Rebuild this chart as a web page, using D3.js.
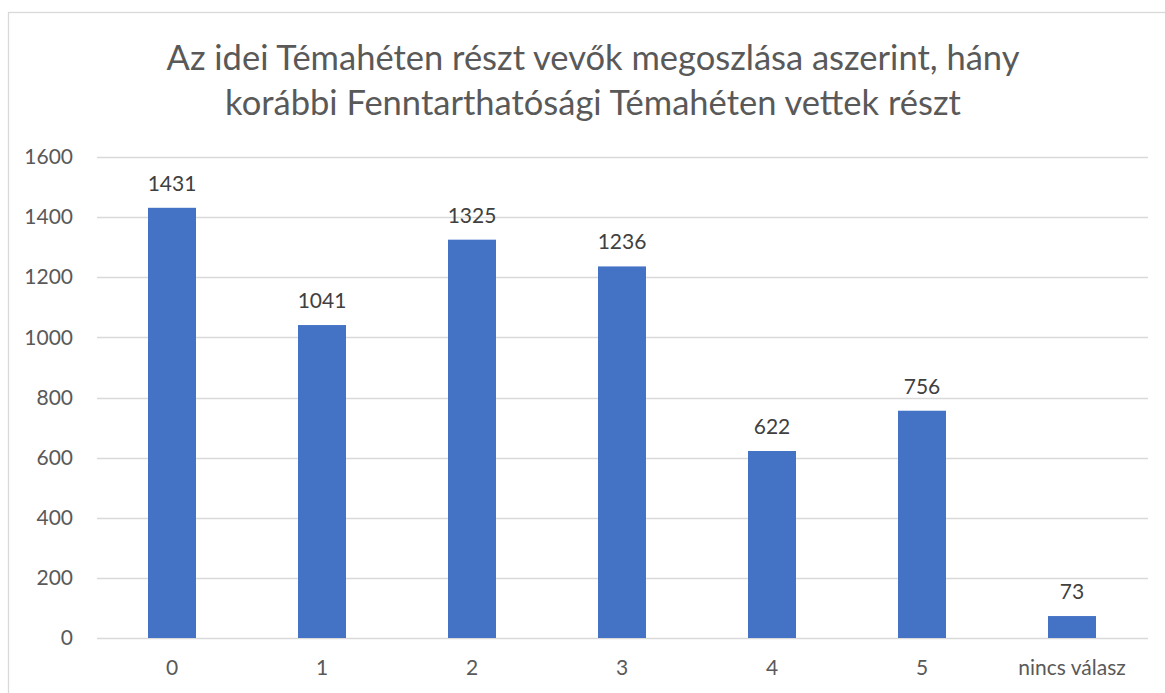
<!DOCTYPE html>
<html><head><meta charset="utf-8">
<script src="https://cdn.jsdelivr.net/npm/d3@7"></script>
<style>body{margin:0;background:#fff}svg{display:block}text{font-family:Lato,"Open Sans",sans-serif}</style>
</head><body>
<svg id="c" width="1165" height="693"></svg>
<script>
const categories = ["0","1","2","3","4","5","nincs válasz"];
const values = [1431,1041,1325,1236,622,756,73];
const yTicks = [0,200,400,600,800,1000,1200,1400,1600];
const titleLines = ["Az idei Témahéten részt vevők megoszlása aszerint, hány","korábbi Fenntarthatósági Témahéten vettek részt"];

const svg = d3.select("#c");
svg.append("rect").attr("x",8.5).attr("y",12.5).attr("width",1175).attr("height",700)
  .attr("fill","#fff").attr("stroke","#d9d9d9").attr("stroke-width",1.3);

const x = d3.scaleBand().domain(categories).range([97,1147]).paddingInner(0.68).paddingOuter(0.34);
const y = d3.scaleLinear().domain([0,1600]).range([638,157]);

svg.append("g").selectAll("line").data(yTicks).join("line")
  .attr("x1",97).attr("x2",1148).attr("y1",d=>Math.round(y(d))+0.5).attr("y2",d=>Math.round(y(d))+0.5)
  .attr("stroke","#d9d9d9").attr("stroke-width",1.3);

const yAxis = svg.append("g").attr("transform","translate(97,0)")
  .call(d3.axisLeft(y).tickValues(yTicks).tickFormat(d3.format("d")).tickSize(0).tickPadding(24));
yAxis.select(".domain").remove();
yAxis.selectAll("text").attr("font-size",21).attr("fill","#595959").attr("font-family","Lato,'Open Sans',sans-serif");

const xAxis = svg.append("g").attr("transform","translate(0,638)")
  .call(d3.axisBottom(x).tickSize(0).tickPadding(22));
xAxis.select(".domain").remove();
xAxis.selectAll("text").attr("font-size",21).attr("fill","#595959").attr("font-family","Lato,'Open Sans',sans-serif");

svg.append("g").selectAll("rect").data(values).join("rect")
  .attr("x",(d,i)=>x(categories[i])).attr("width",x.bandwidth())
  .attr("y",d=>y(d)).attr("height",d=>y(0)-y(d)).attr("fill","#4472c4");

svg.append("g").selectAll("text").data(values).join("text")
  .attr("x",(d,i)=>x(categories[i])+x.bandwidth()/2).attr("y",d=>y(d)-17)
  .attr("text-anchor","middle").attr("font-size",21).attr("fill","#404040").text(d=>d);

svg.append("g").selectAll("text").data(titleLines).join("text")
  .attr("x",593).attr("y",(d,i)=>70+i*45).attr("text-anchor","middle")
  .attr("font-size",34.5).attr("fill","#595959").text(d=>d);
</script>
</body></html>
